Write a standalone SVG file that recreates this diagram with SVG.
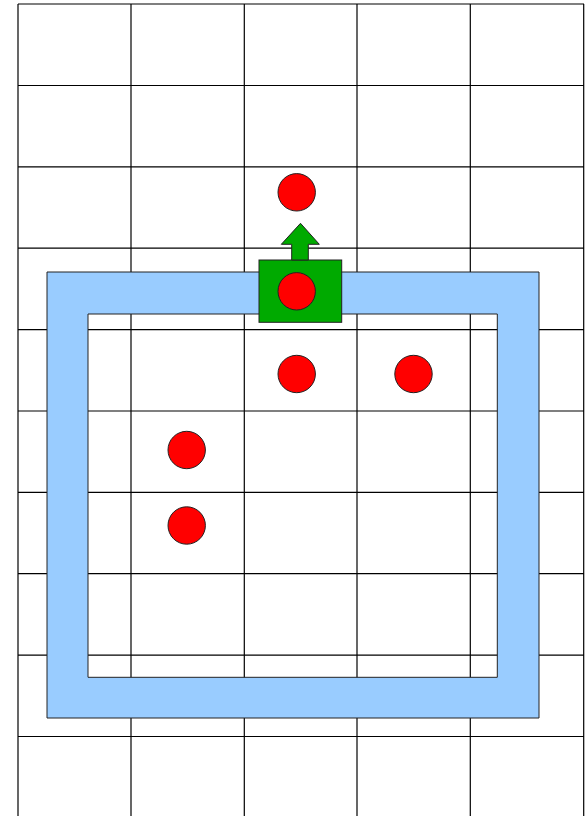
<svg xmlns="http://www.w3.org/2000/svg" width="585" height="816" viewBox="0 0 585 816">
<style>
.grid line{stroke:#000;stroke-width:1.2}
.dot{fill:#ff0000;stroke:#222;stroke-width:1}
</style>
<rect width="585" height="816" fill="#fff"/>
<g id="grid" class="grid">
<line x1="18" y1="4" x2="18" y2="816"/>
<line x1="131" y1="4" x2="131" y2="816"/>
<line x1="244.3" y1="4" x2="244.3" y2="816"/>
<line x1="357" y1="4" x2="357" y2="816"/>
<line x1="470.3" y1="4" x2="470.3" y2="816"/>
<line x1="583.7" y1="4" x2="583.7" y2="816" stroke="#555"/>
<line x1="18" y1="4" x2="584" y2="4" stroke="#666"/>
<line x1="18" y1="85.5" x2="584" y2="85.5"/>
<line x1="18" y1="166.8" x2="584" y2="166.8"/>
<line x1="18" y1="248.2" x2="584" y2="248.2"/>
<line x1="18" y1="329.6" x2="584" y2="329.6"/>
<line x1="18" y1="411" x2="584" y2="411"/>
<line x1="18" y1="492.3" x2="584" y2="492.3"/>
<line x1="18" y1="573.7" x2="584" y2="573.7"/>
<line x1="18" y1="655.1" x2="584" y2="655.1"/>
<line x1="18" y1="736.5" x2="584" y2="736.5"/>
</g>
<g id="frame">
<path d="M47 272H539V718H47Z M88 314V677.3H497.3V314Z" fill="#99ccff" fill-rule="evenodd" stroke="#222" stroke-width="1"/>
</g>
<g id="robot">
<rect x="259" y="260" width="82.7" height="62.3" fill="#00aa00" stroke="#222" stroke-width="1"/>
<path d="M291.7 260V244.3H281.3L300.5 223.3L319.3 244.3H308.3V260Z" fill="#00aa00" stroke="#222" stroke-width="1"/>
</g>
<g id="dots">
<circle class="dot" cx="296.7" cy="192.3" r="18.7"/>
<circle class="dot" cx="296.7" cy="291.3" r="18.7"/>
<circle class="dot" cx="296.7" cy="374" r="18.7"/>
<circle class="dot" cx="413.5" cy="374" r="18.7"/>
<circle class="dot" cx="186.7" cy="450" r="18.7"/>
<circle class="dot" cx="186.7" cy="525.5" r="18.7"/>
</g>
</svg>
